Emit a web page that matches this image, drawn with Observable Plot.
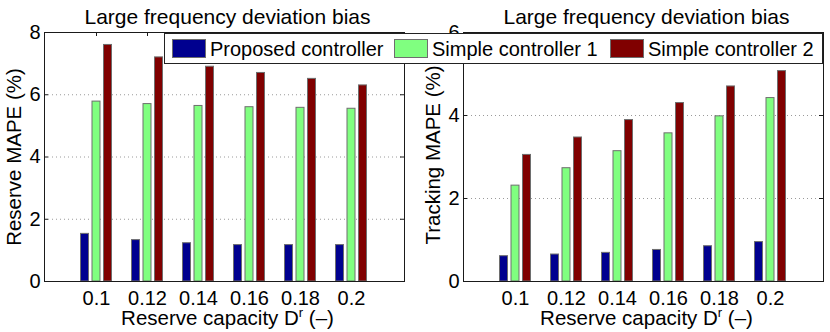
<!DOCTYPE html>
<html>
<head>
<meta charset="utf-8">
<script src="https://cdn.jsdelivr.net/npm/d3@7"></script>
<script src="https://cdn.jsdelivr.net/npm/@observablehq/plot@0.6"></script>
<style>
  html, body { margin: 0; padding: 0; background: #fff; }
  #wrap { position: relative; width: 830px; height: 332px; font-family: "Liberation Sans", Arial, sans-serif; }
  .panel { position: absolute; top: 0; }
  #legend { position: absolute; left: 164px; top: 33px; width: 657px; height: 29px; background: #fff; border: 1px solid #222; }
  .sw { position: absolute; top: 5px; width: 32px; height: 17px; border: 1px solid #6e6e6e; }
  .lt { position: absolute; top: 5px; font-size: 20px; line-height: 20px; color: #000; white-space: nowrap; }
</style>
</head>
<body>
<div id="wrap">
  <div class="panel" id="left" style="left:0"></div>
  <div class="panel" id="right" style="left:415px"></div>
  <div id="legend"></div>
</div>
<script>
const categories = ["0.1", "0.12", "0.14", "0.16", "0.18", "0.2"];
const seriesNames = ["Proposed controller", "Simple controller 1", "Simple controller 2"];
const seriesColors = ["#00008f", "#80ff80", "#800000"];
const reserveProposed = [1.53, 1.33, 1.23, 1.17, 1.17, 1.17];
const reserveSimple1 = [5.78, 5.70, 5.64, 5.60, 5.58, 5.55];
const reserveSimple2 = [7.60, 7.20, 6.90, 6.70, 6.51, 6.30];
const trackingProposed = [0.61, 0.65, 0.69, 0.76, 0.85, 0.95];
const trackingSimple1 = [2.31, 2.73, 3.14, 3.57, 3.98, 4.42];
const trackingSimple2 = [3.05, 3.47, 3.89, 4.30, 4.70, 5.07];
const reserveTicks = [0, 2, 4, 6, 8];
const trackingTicks = [0, 2, 4, 6];
const titleText = "Large frequency deviation bias";
const xLabelText = "Reserve capacity D^r (\u2013)";

function makePanel({series, yMax, ticks, yLabel, marginLeft, marginRight, width, yLabelDy}) {
  const H = 332, mt = 32, mb = 51;
  const fh = H - mt - mb, fw = width - marginLeft - marginRight;
  const offsets = [-11.5, 0, 11.5];
  const rows = series.map((vals, s) => categories.map((c, i) => ({cat: c, value: vals[i], s})));
  const plot = Plot.plot({
    width, height: H, marginLeft, marginRight, marginTop: mt, marginBottom: mb,
    style: {fontFamily: "Liberation Sans, Arial, sans-serif", fontSize: "20px", background: "transparent", overflow: "visible", color: "#000"},
    x: {type: "band", domain: categories, paddingInner: 0.834, paddingOuter: 0.917, label: null, axis: null},
    y: {domain: [0, yMax], label: null, axis: null},
    marks: [
      Plot.ruleY(ticks.filter(t => t > 0 && t < yMax), {y: d => d, stroke: "#9a9a9a", strokeDasharray: "1,3"}),
      ...rows.map((r, s) => Plot.barY(r, {x: "cat", y: "value", fill: seriesColors[s], stroke: "#6e6e6e", strokeWidth: 1, dx: offsets[s]})),
      Plot.frame({stroke: "#1a1a1a"}),
      Plot.ruleX(categories, {x: d => d, insetBottom: fh - 4, stroke: "#1a1a1a"}),
      Plot.ruleY(ticks, {y: d => d, insetRight: fw - 4, stroke: "#1a1a1a"}),
      Plot.ruleY(ticks, {y: d => d, insetLeft: fw - 4, stroke: "#1a1a1a"}),
      Plot.axisY(ticks, {anchor: "left", tickSize: 0, tickPadding: 4, fontSize: 20, tickFormat: d => String(d)}),
      Plot.axisX({anchor: "bottom", tickSize: 0, tickPadding: 9, fontSize: 20}),
      Plot.text([titleText], {text: d => d, frameAnchor: "top", textAnchor: "middle", lineAnchor: "bottom", dy: -9, dx: 3, fontSize: 21}),
      Plot.text([xLabelText], {text: d => d, frameAnchor: "bottom", textAnchor: "middle", lineAnchor: "bottom", dy: 43, dx: 3, fontSize: 20.5}),
      Plot.text([yLabel], {text: d => d, frameAnchor: "left", textAnchor: "middle", rotate: -90, lineAnchor: "middle", dx: -30, dy: yLabelDy, fontSize: 20.5})
    ]
  });
  d3.select(plot).selectAll("text").each(function() {
    const t = d3.select(this);
    if (this.textContent === xLabelText) {
      t.text(null);
      t.append("tspan").text("Reserve capacity D");
      t.append("tspan").attr("dy", -8).attr("font-size", 13).text("r");
      t.append("tspan").attr("dy", 8).text(" (\u2013)");
    }
  });
  return plot;
}

document.getElementById("left").appendChild(makePanel({
  series: [reserveProposed, reserveSimple1, reserveSimple2], yMax: 8, ticks: reserveTicks,
  yLabel: "Reserve MAPE (%)", marginLeft: 44, marginRight: 11, width: 415, yLabelDy: 0
}));
document.getElementById("right").appendChild(makePanel({
  series: [trackingProposed, trackingSimple1, trackingSimple2], yMax: 6, ticks: trackingTicks,
  yLabel: "Tracking MAPE (%)", marginLeft: 48, marginRight: 7, width: 415, yLabelDy: -2
}));

const legendPos = [[7, 45], [229, 267], [445, 483]];
const legend = document.getElementById("legend");
seriesNames.forEach((name, i) => {
  const sw = document.createElement("div");
  sw.className = "sw"; sw.style.left = legendPos[i][0] + "px"; sw.style.background = seriesColors[i];
  legend.appendChild(sw);
  const lt = document.createElement("div");
  lt.className = "lt"; lt.style.left = legendPos[i][1] + "px"; lt.textContent = name;
  legend.appendChild(lt);
});
</script>
</body>
</html>
